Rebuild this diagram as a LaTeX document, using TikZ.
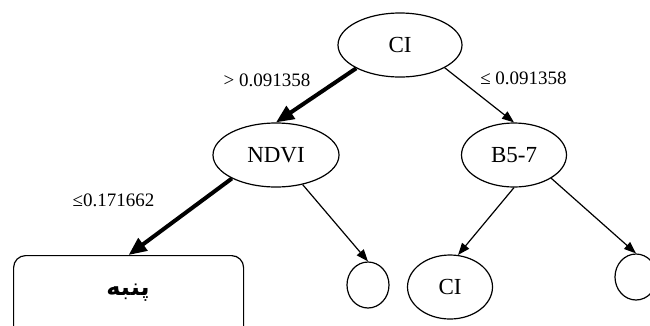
\documentclass[tikz,border=0pt]{standalone}
\usepackage{fontspec}
\setmainfont{Liberation Serif}
\newfontfamily\farsifont[Script=Arabic]{DejaVu Sans}
\TeXXeTstate=1
\usetikzlibrary{arrows.meta,shapes.geometric}

\begin{document}
\begin{tikzpicture}[x=1pt,y=1pt,yscale=-1,xscale=1,
  ell/.style={draw,ellipse,line width=1.2pt,inner sep=0pt,font=\fontsize{23}{25}\selectfont},
  lbl/.style={inner sep=0.75pt,font=\fontsize{19}{22}\selectfont},
  thin/.style={line width=1.2pt,-{Triangle[length=12pt,width=9pt]}},
  thick/.style={line width=4pt,-{Triangle[length=18pt,width=15pt]}}]
\useasboundingbox (0,0) rectangle (650,325);
\clip (0,0) rectangle (650,325);

%Shape: Ellipse
\node[ell,minimum width=124,minimum height=64] (root) at (400,45) {CI};
%Shape: Ellipse
\node[ell,minimum width=126,minimum height=64] (ndvi) at (276,155) {NDVI};
%Shape: Ellipse
\node[ell,minimum width=105,minimum height=64] (band) at (514,155) {B5-7};
%Shape: Rectangle
\node[draw,line width=1.2pt,rounded corners=12pt,minimum width=230,minimum height=90,
  anchor=north west,inner sep=0pt] (cotton) at (13,255) {};
\node (cottontxt) at (128,293) {\farsifont\bfseries\fontsize{24}{28}\selectfont\beginR پنبه\endR};
%Shape: Circle
\node[ell,minimum width=42,minimum height=46] (leafa) at (368,285) {};
%Shape: Ellipse
\node[ell,minimum width=85,minimum height=64] (ci) at (450,287) {CI};
%Shape: Circle
\node[ell,minimum width=42,minimum height=46] (leafb) at (636,277) {};

%Straight Lines
\draw[thick] (root.208) -- (ndvi.north);
\draw[thin] (root.-27) -- (band.north);
\draw[thick] (ndvi.208) -- (cotton.north);
\draw[thin] (ndvi.-48) -- (leafa.north);
\draw[thin] (band.south) -- (ci.76);
\draw[thin] (band.-32) -- (leafb.north);

% Text Node
\node[lbl] (gt) at (267,80) {> 0.091358};
% Text Node
\node[lbl] (le) at (523.5,78) {≤ 0.091358};
% Text Node
\node[lbl] (lendvi) at (113.5,200) {≤0.171662};

\end{tikzpicture}
\end{document}
